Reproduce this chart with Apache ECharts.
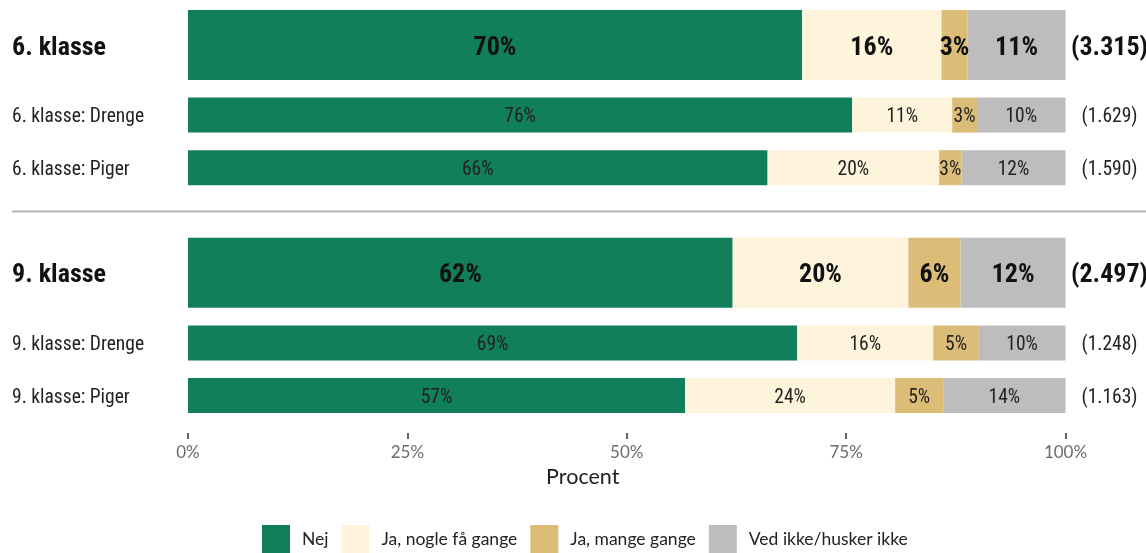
<!DOCTYPE html>
<html>
<head>
<meta charset="utf-8">
<script src="https://cdn.jsdelivr.net/npm/echarts@6/dist/echarts.min.js"></script>
<style>html,body{margin:0;padding:0;background:#fff;}#c{width:1146px;height:553px;}</style>
</head>
<body>
<div id="c"></div>
<script>
// ---- data ----
const categories = ['6. klasse', '6. klasse: Drenge', '6. klasse: Piger', '9. klasse', '9. klasse: Drenge', '9. klasse: Piger'];
const isTotalRow = [true, false, false, true, false, false];
const respondents = [3315, 1629, 1590, 2497, 1248, 1163];
const seriesNames = ['Nej', 'Ja, nogle få gange', 'Ja, mange gange', 'Ved ikke/husker ikke'];
const nej      = [69.97, 75.70, 66.05, 62.07, 69.43, 56.64];
const nogle    = [15.91, 11.39, 19.55, 20.02, 15.50, 23.95];
const mange    = [2.96, 2.82, 2.55, 5.96, 5.19, 5.47];
const vedIkke  = [11.16, 10.09, 11.85, 11.95, 9.88, 13.94];
const xTicks = [0, 25, 50, 75, 100];

// ---- layout (row slots on the category axis) ----
const rowSlot = [0, 4, 7, 13, 17, 20];
const slotCount = 21;
const separatorSlot = 9.5;
const colors = ['#117E5C', '#FEF4DB', '#DBBD77', '#BDBDBD'];
const FONT = '"Roboto Condensed", "Liberation Sans", Arial, sans-serif';
const FONT2 = 'Lato, "Open Sans", sans-serif';

const slotNames = Array.from({length: slotCount}, (_, i) => 's' + i);
const slotToRow = {};
rowSlot.forEach((s, r) => slotToRow[s] = r);

function fmtN(n) { return String(n).replace(/\B(?=(\d{3})+(?!\d))/g, '.'); }

const values = [nej, nogle, mange, vedIkke];
function slotData(vals, wantTotal) {
  return slotNames.map((_, i) => {
    const r = slotToRow[i];
    if (r === undefined || isTotalRow[r] !== wantTotal) return '-';
    return vals[r];
  });
}

const series = [];
[true, false].forEach(big => {
  values.forEach((vals, k) => {
    series.push({
      type: 'bar',
      name: seriesNames[k],
      stack: big ? 'big' : 'small',
      yAxisIndex: big ? 0 : 1,
      barWidth: big ? 70 : 35,
      clip: false,
      data: slotData(vals, big),
      itemStyle: { color: colors[k] },
      emphasis: { disabled: true },
      label: {
        show: true,
        position: 'inside',
        offset: [0, big ? 3 : 2.5],
        formatter: p => Math.round(p.value) + '%',
        fontFamily: FONT,
        fontSize: big ? 26 : 19.5,
        fontWeight: big ? 'bold' : 'normal',
        color: big ? '#111' : '#222'
      }
    });
  });
});

const richStyles = {
  b: { fontFamily: FONT, fontSize: 26, fontWeight: 'bold', color: '#111', padding: [6, 0, 0, 0] },
  n: { fontFamily: FONT, fontSize: 19.5, color: '#222', padding: [5, 0, 0, 0] }
};

const chart = echarts.init(document.getElementById('c'), null, {renderer: 'canvas'});
const option = {
  backgroundColor: '#fff',
  animation: false,
  grid: { left: 188, right: 80.5, top: 36.24, bottom: 148.7, containLabel: false, outerBoundsMode: 'none' },
  legend: {
    data: seriesNames,
    left: 257, top: 520,
    itemWidth: 28, itemHeight: 28, itemGap: 13,
    icon: 'rect',
    textStyle: { fontFamily: FONT2, fontSize: 17.5, color: '#222', padding: [0, 0, 0, 7] }
  },
  xAxis: {
    type: 'value', min: 0, max: 100, interval: 25,
    offset: 28.7,
    axisLine: { show: false },
    axisTick: { show: true, length: 6, lineStyle: { color: '#333', width: 1.5 } },
    splitLine: { show: false },
    axisLabel: { formatter: v => xTicks.includes(v) ? v + '%' : '', fontFamily: FONT2, fontSize: 17, color: '#6b6b6b', margin: 11 },
    name: 'Procent', nameLocation: 'middle', nameGap: 33,
    nameTextStyle: { fontFamily: FONT2, fontSize: 21.5, color: '#222', padding: [0, 88, 0, 0] }
  },
  yAxis: [
    {
      type: 'category', data: slotNames, inverse: true, position: 'left',
      axisLine: { show: false }, axisTick: { show: false }, splitLine: { show: false },
      axisLabel: {
        interval: 0, align: 'left', margin: 176,
        formatter: (v, i) => {
          const r = slotToRow[i];
          if (r === undefined) return '';
          return isTotalRow[r] ? '{b|' + categories[r] + '}' : '{n|' + categories[r] + '}';
        },
        rich: richStyles
      }
    },
    {
      type: 'category', data: slotNames, inverse: true, position: 'right',
      axisLine: { show: false }, axisTick: { show: false }, splitLine: { show: false },
      axisLabel: {
        interval: 0, align: 'center', margin: 44,
        formatter: (v, i) => {
          const r = slotToRow[i];
          if (r === undefined) return '';
          const t = '(' + fmtN(respondents[r]) + ')';
          return isTotalRow[r] ? '{b|' + t + '}' : '{n|' + t + '}';
        },
        rich: richStyles
      }
    }
  ],
  series: series
};
chart.setOption(option);

// separator line between the two school-year groups, positioned from the axis
const lo = Math.floor(separatorSlot), hi = Math.ceil(separatorSlot);
const yLo = chart.convertToPixel({yAxisIndex: 0}, slotNames[lo]);
const yHi = chart.convertToPixel({yAxisIndex: 0}, slotNames[hi]);
const ySep = yLo + (yHi - yLo) * (separatorSlot - lo);
chart.setOption({
  graphic: [{
    type: 'line', silent: true,
    shape: { x1: 12, y1: ySep, x2: 1146, y2: ySep },
    style: { stroke: '#b4b4b4', lineWidth: 2 }
  }]
});
</script>
</body>
</html>
